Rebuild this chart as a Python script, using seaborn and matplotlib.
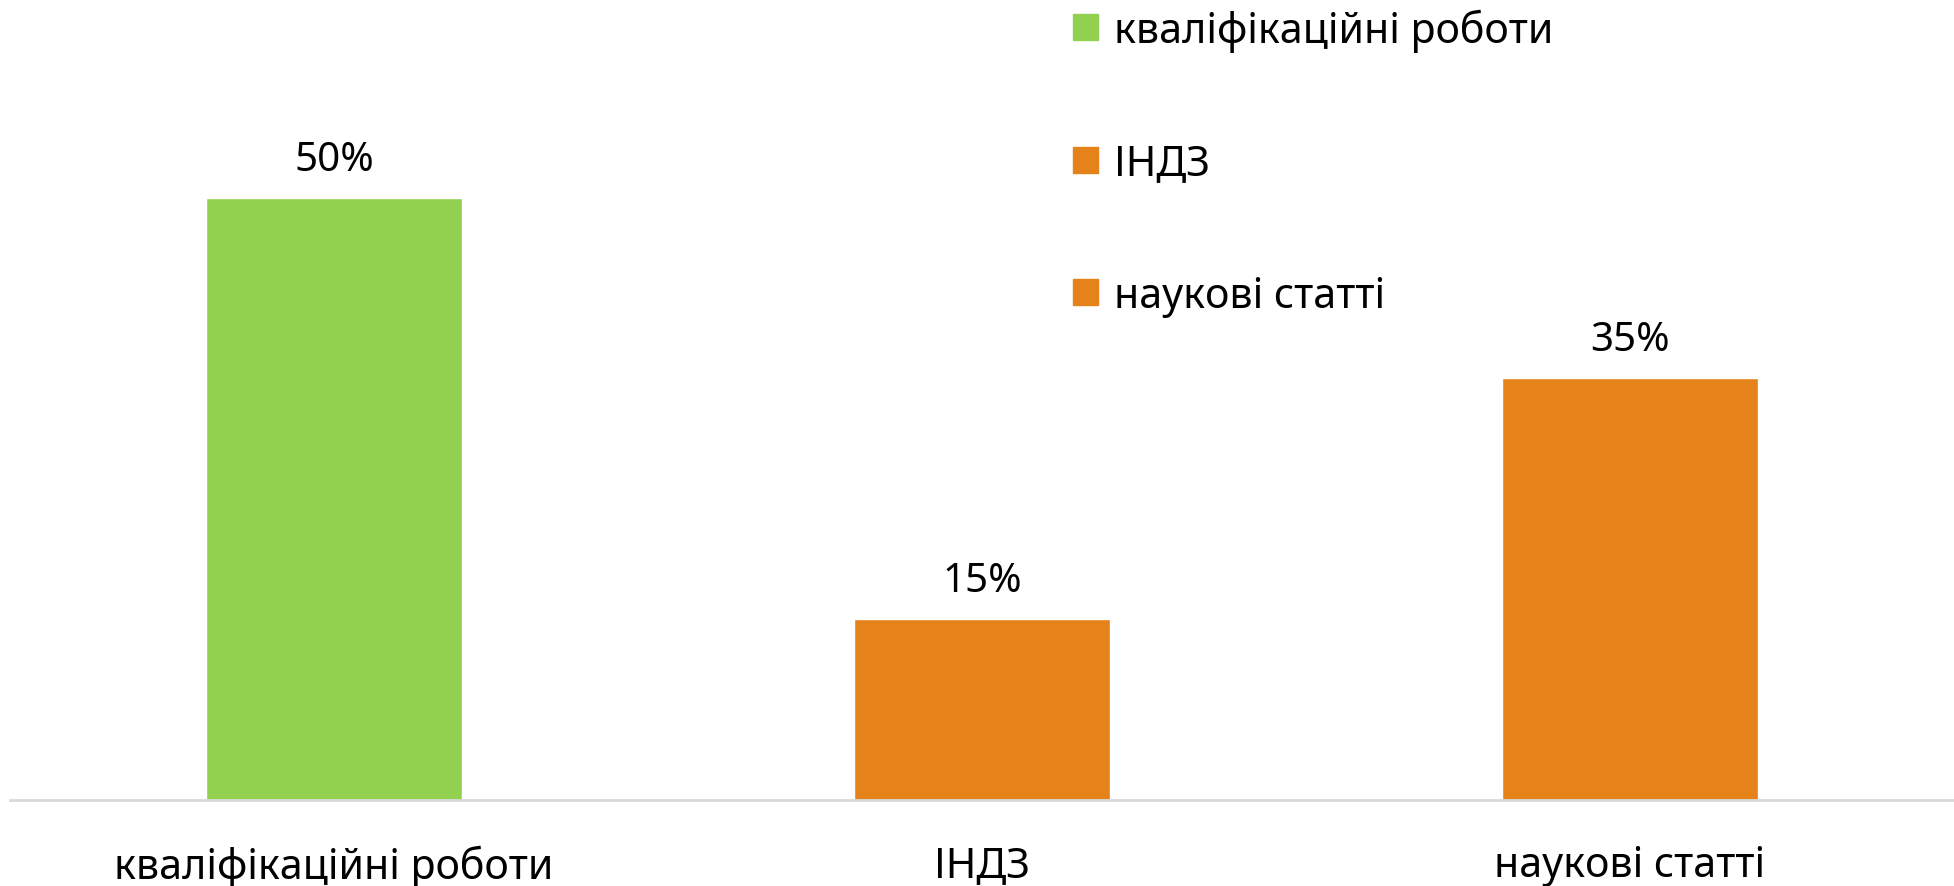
import matplotlib
matplotlib.use("Agg")
import matplotlib.pyplot as plt
import seaborn as sns

# Chart data
categories = ["кваліфікаційні роботи", "ІНДЗ", "наукові статті"]
values = [50, 15, 35]
colors = ["#92D050", "#E5821A", "#E5821A"]

sns.set_style("white")
plt.rcParams["font.family"] = ["Noto Sans", "DejaVu Sans"]

fig = plt.figure(figsize=(19.54, 8.87), dpi=100)
ax = fig.add_axes([10 / 1954, 86 / 887, 1 - 10 / 1954, 1 - 86 / 887])

sns.barplot(x=categories, y=values, hue=categories, palette=colors,
            width=0.394, dodge=False, legend=False, ax=ax, saturation=1)

# Value labels above bars
for c in ax.containers:
    ax.bar_label(c, labels=[f"{v:g}%" for v in c.datavalues],
                 padding=13, fontsize=29, color="#000000")

ax.set_xlim(-0.5, 2.5)
ax.set_ylim(0, 66.5)
ax.set_yticks([])
ax.set_xlabel("")
ax.set_ylabel("")
ax.tick_params(axis="x", length=0, pad=32, labelsize=29.6, labelcolor="#000000")

for side in ["top", "right", "left"]:
    ax.spines[side].set_visible(False)
ax.spines["bottom"].set_color("#D9D9D9")
ax.spines["bottom"].set_linewidth(2)

# Legend
handles = [plt.Rectangle((0, 0), 1, 1, color=col) for col in colors]
fig.legend(handles, categories, loc="upper left",
           bbox_to_anchor=(1036 / 1954, 1.031), frameon=False,
           fontsize=29.6, handlelength=0.6, handleheight=0.6,
           handletextpad=0.4, labelspacing=2.2, labelcolor="#000000")

fig.savefig("out.png", dpi=100)
